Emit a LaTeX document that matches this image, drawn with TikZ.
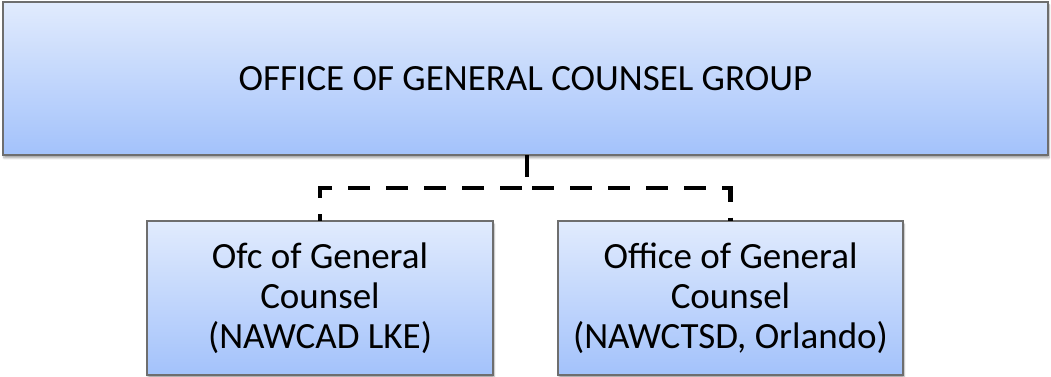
\documentclass[tikz,border=0pt]{standalone}
\usepackage{fontspec}
\setmainfont{Carlito}
\usetikzlibrary{shadows.blur}
\definecolor{boxtop}{HTML}{E1EBFD}
\definecolor{boxbot}{HTML}{A3C2FB}
\definecolor{boxline}{HTML}{6E6E6E}
\begin{document}
\begin{tikzpicture}[x=1pt,y=1pt,
  orgbox/.style={draw=boxline, line width=1.2pt, top color=boxtop, bottom color=boxbot,
     blur shadow={shadow xshift=1pt, shadow yshift=-3pt, shadow blur steps=6, shadow opacity=35},
     inner sep=0pt, outer sep=0pt, font=\fontsize{37}{40}\selectfont, align=center},
  link/.style={line width=4.5pt, dash pattern=on 22pt off 16pt}]
\useasboundingbox (0,0) rectangle (1051,376);
\node[orgbox, minimum width=1045pt, minimum height=153pt] (top) at (525.5,297.5)
  {OFFICE OF GENERAL COUNSEL GROUP};
\node[orgbox, minimum width=346pt, minimum height=154pt] (left) at (320,78)
  {Ofc of General\\Counsel\\(NAWCAD LKE)};
\node[orgbox, minimum width=345pt, minimum height=154pt] (right) at (730.5,78)
  {Office of General\\Counsel\\(NAWCTSD, Orlando)};
\coordinate (mid) at (527,188);
\draw[link] ([xshift=1.5pt]top.south) |- (left.north |- mid) -- (left.north);
\draw[link] ([xshift=1.5pt]top.south) |- (right.north |- mid) -- (right.north);
\end{tikzpicture}
\end{document}
